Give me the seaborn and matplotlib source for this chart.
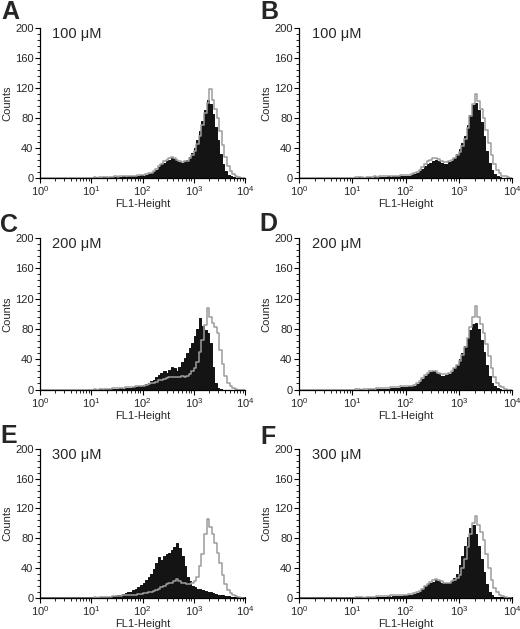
import numpy as np
import pandas as pd
import matplotlib
matplotlib.use("Agg")
import matplotlib.pyplot as plt
import seaborn as sns
from matplotlib.ticker import MultipleLocator, LogLocator, NullFormatter, FixedLocator

# ---------------- data (counts per 0.05-decade channel, log10 0..4) ----------------
n_bins = 80
log_lo, log_hi = 0.0, 4.0
bin_centers_log = np.arange(n_bins) * 0.05 + 0.025

panel_letters = ["A", "B", "C", "D", "E", "F"]
concentrations = ["100 \u03bcM", "100 \u03bcM", "200 \u03bcM", "200 \u03bcM", "300 \u03bcM", "300 \u03bcM"]

zeros20 = [0] * 20

A_black = zeros20 + [0,0,1,0,1,1,0,1,1,1, 1,1,2,1,2,2,2,3,3,4,
                     3,4,5,6,8,11,15,18,20,22, 24,27,25,22,21,20,22,24,28,33,
                     40,50,62,76,90,104,98,85,68,50, 32,18,9,4,2,1,0,0,0,0]
A_gray = zeros20 + [0,1,0,1,1,1,1,1,1,2, 1,2,2,2,2,3,3,3,4,4,
                    4,5,6,7,9,12,16,19,22,24, 26,28,26,24,22,21,22,23,26,30,
                    36,45,56,70,86,100,118,104,92,80, 62,44,28,16,9,5,3,1,0,0]

B_black = zeros20 + [0,0,1,0,0,1,1,0,1,1, 1,1,1,2,1,2,2,2,3,3,
                     3,3,4,5,6,9,12,16,18,20, 22,24,23,20,19,19,21,23,27,32,
                     38,46,56,70,84,97,100,90,74,56, 36,20,10,5,2,1,0,0,0,0]
B_gray = zeros20 + [0,1,1,1,0,1,1,1,2,1, 2,2,2,2,3,3,3,3,4,4,
                    4,4,5,6,8,11,15,19,22,24, 26,27,25,22,21,21,22,24,27,30,
                    35,42,52,66,82,98,112,102,92,80, 64,46,30,18,10,6,3,2,1,0]

C_black = zeros20 + [0,0,0,1,0,1,1,1,1,1, 1,2,1,2,2,2,3,3,4,5,
                     6,7,9,11,13,16,19,22,24,22, 26,30,28,24,30,36,42,48,55,62,
                     70,80,95,84,78,74,62,30,8,2, 1,0,0,0,0,0,0,0,0,0]
C_gray = zeros20 + [0,1,0,1,1,1,1,1,2,2, 2,2,2,3,3,3,3,4,4,5,
                    5,6,7,8,9,10,12,13,14,15, 16,17,17,16,17,18,17,18,20,24,
                    28,36,50,65,85,108,96,88,82,75, 52,34,18,9,5,2,1,0,0,0]

D_black = zeros20 + [0,0,0,1,0,0,1,1,0,1, 1,1,1,1,2,2,2,2,3,3,
                     3,4,4,5,7,10,14,18,21,23, 24,22,20,18,18,19,20,23,28,33,
                     40,48,58,68,78,86,88,80,66,50, 32,18,8,4,2,1,0,0,0,0]
D_gray = zeros20 + [0,1,1,0,1,1,1,1,1,2, 2,2,2,2,3,3,3,3,4,4,
                    4,5,5,6,8,11,15,19,22,24, 25,24,22,20,20,21,22,24,28,32,
                    38,46,56,68,82,96,110,96,86,75, 60,44,28,16,9,5,3,1,0,0]

E_black = zeros20 + [0,0,0,1,0,1,1,1,2,2, 3,4,5,6,7,8,10,12,14,17,
                     20,23,27,32,38,46,54,50,56,58, 60,64,68,73,66,56,42,28,22,16,
                     14,12,11,10,9,8,7,6,5,4, 3,3,2,2,1,1,0,0,0,0]
E_gray = zeros20 + [0,1,0,1,1,1,1,1,2,2, 2,2,3,3,3,3,4,4,5,5,
                    6,6,7,8,9,10,12,14,16,18, 19,20,22,25,22,20,19,18,18,19,
                    22,28,42,58,86,106,95,86,74,60, 46,30,18,10,6,3,2,1,0,0]

F_black = zeros20 + [0,0,1,0,0,1,0,1,1,1, 1,1,1,2,1,2,2,2,2,3,
                     3,4,4,5,6,8,12,16,18,19, 21,23,22,20,19,19,20,22,26,32,
                     44,56,70,82,94,97,86,70,52,34, 18,8,3,1,0,0,0,0,0,0]
F_gray = zeros20 + [0,1,1,1,0,1,1,1,1,2, 2,2,2,2,3,3,3,3,3,4,
                    4,5,5,6,7,9,12,15,18,21, 23,25,24,22,20,20,20,22,24,26,
                    30,40,52,68,86,100,110,98,88,78, 58,40,24,13,7,4,2,1,0,0]

black_series = [A_black, B_black, C_black, D_black, E_black, F_black]
gray_series = [A_gray, B_gray, C_gray, D_gray, E_gray, F_gray]

y_ticks = [0, 40, 80, 120, 160, 200]
x_ticks = [1, 10, 100, 1000, 10000]

# ---------------- style ----------------
sns.set_style("ticks")
plt.rcParams["font.family"] = ["Liberation Sans", "DejaVu Sans"]
plt.rcParams["mathtext.default"] = "regular"

fig = plt.figure(figsize=(5.2, 6.29), dpi=100)
W, H = 520.0, 629.0

col_x = [(40, 205), (299, 213)]          # left px, width px
row_y = [(28, 178), (238, 389.5), (449, 597.5)]  # top px, bottom px
letter_pos = [(1, 0), (260, 0), (0, 213), (259, 212), (0, 424), (260, 425)]

fill_color = "#141414"
gray_color = "#9c9c9c"

for k in range(6):
    r, c = divmod(k, 2)
    lx, w = col_x[c]
    top, bot = row_y[r]
    ax = fig.add_axes([lx / W, 1 - bot / H, w / W, (bot - top) / H])

    df = pd.DataFrame({"fl1": 10 ** bin_centers_log,
                       "black": black_series[k],
                       "gray": gray_series[k]})

    sns.histplot(data=df, x="fl1", weights="black", bins=n_bins,
                 binrange=(log_lo, log_hi), log_scale=True, element="step",
                 fill=True, color=fill_color, alpha=1.0, linewidth=0.6,
                 edgecolor="black", ax=ax)
    sns.histplot(data=df, x="fl1", weights="gray", bins=n_bins,
                 binrange=(log_lo, log_hi), log_scale=True, element="step",
                 fill=False, color=gray_color, linewidth=1.1, ax=ax)

    ax.set_xlim(1, 1e4)
    ax.set_ylim(0, 200)
    sns.despine(ax=ax)
    for s in ("left", "bottom"):
        ax.spines[s].set_linewidth(0.9)
        ax.spines[s].set_color("black")

    ax.yaxis.set_major_locator(FixedLocator(y_ticks))
    ax.yaxis.set_minor_locator(MultipleLocator(8))
    ax.xaxis.set_major_locator(FixedLocator(x_ticks))
    ax.xaxis.set_minor_locator(LogLocator(base=10, subs=np.arange(2, 10)))
    ax.xaxis.set_minor_formatter(NullFormatter())
    ax.tick_params(which="major", direction="out", length=3.5, width=0.8,
                   labelsize=8, pad=1.2, color="black")
    ax.tick_params(which="minor", direction="out", length=2, width=0.6,
                   color="black")

    ax.set_xlabel("FL1-Height", fontsize=8, labelpad=0.5)
    ax.set_ylabel("Counts", fontsize=8, labelpad=1.5)

    ax.text(0.06, 0.962, concentrations[k], transform=ax.transAxes,
            fontsize=10.5, ha="left", va="center")

    lxp, lyp = letter_pos[k]
    fig.text(lxp / W, 1 - lyp / H, panel_letters[k], fontsize=18,
             fontweight="bold", ha="left", va="top")

fig.savefig("out.png", dpi=100)
